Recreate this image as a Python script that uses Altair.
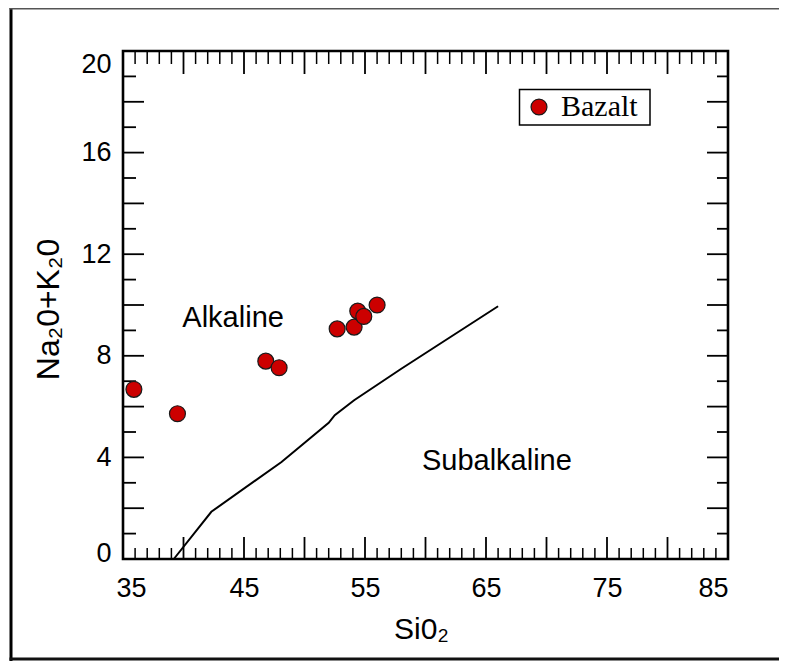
import altair as alt
import pandas as pd

# ---- data ----
sio2 = [35.9, 39.5, 46.8, 47.9, 52.7, 54.1, 54.4, 54.9, 56.0]
alkali = [6.68, 5.72, 7.79, 7.53, 9.06, 9.13, 9.76, 9.55, 10.0]
rock = ["Bazalt"] * 9

line_sio2 = [39.2, 42.3, 48.1, 52.0, 52.5, 54.1, 58.0, 66.0]
line_alk = [0.0, 1.86, 3.82, 5.36, 5.66, 6.25, 7.49, 9.95]

region_names = ["Alkaline", "Subalkaline"]
region_x = [44.1, 65.9]
region_y = [9.5, 3.85]

x_label_ticks = [35, 45, 55, 65, 75, 85]
y_label_ticks = [0, 4, 8, 12, 16, 20]
x_major = [35, 40, 45, 50, 55, 60, 65, 70, 75, 80, 85]
x_minor = [v for v in range(35, 86) if v % 5 != 0]
y_major = [0, 2, 4, 6, 8, 10, 12, 14, 16, 18, 20]
y_minor = [v for v in range(0, 21) if v % 2 != 0]

W, H = 605, 508
FONT = "Liberation Sans"

pts = pd.DataFrame({"sio2": sio2, "alk": alkali, "rock": rock})
bnd = pd.DataFrame({"sio2": line_sio2, "alk": line_alk})
reg = pd.DataFrame({"name": region_names, "sio2": region_x, "alk": region_y})
xmaj = pd.DataFrame({"v": x_major})
xmin = pd.DataFrame({"v": x_minor})
ymaj = pd.DataFrame({"v": y_major})
ymin = pd.DataFrame({"v": y_minor})
dummy = pd.DataFrame({"a": [0]})
dummy_top = pd.DataFrame({"t": [1]})
dummy_bot = pd.DataFrame({"b": [2]})

xscale = alt.Scale(domain=[35, 85], nice=False, zero=False)
yscale = alt.Scale(domain=[0, 20], nice=False, zero=False)

xaxis = alt.Axis(
    values=x_label_ticks, grid=False, ticks=False, domain=False,
    labelFont=FONT, labelFontSize=27, labelColor="black", labelPadding=16,
    labelFlush=True,
    labelOffset={"condition": {"test": "datum.value === 35", "value": -7}, "value": 0},
    title="Si0\u2082", titleFont=FONT, titleFontSize=30, titleFontWeight="normal",
    titleColor="black", titleX=298, titleY=79, titleBaseline="alphabetic",
)
yaxis = alt.Axis(
    values=y_label_ticks, grid=False, ticks=False, domain=False,
    labelFont=FONT, labelFontSize=27, labelColor="black", labelPadding=12,
    labelFlush=True,
    labelOffset={"condition": {"test": "datum.value === 0", "value": 8}, "value": 0},
    title="Na\u20820+K\u20820", titleFont=FONT, titleFontSize=32, titleFontWeight="normal",
    titleColor="black", titleX=-65, titleY=H / 2 + 4, titleAngle=-90,
    titleAlign="center", titleBaseline="alphabetic",
)

def X(field):
    return alt.X(field, type="quantitative", scale=xscale, axis=xaxis, title="Si0\u2082")

def Y(field):
    return alt.Y(field, type="quantitative", scale=yscale, axis=yaxis, title="Na\u20820+K\u20820")

# inward ticks
tick_color = "black"
bottom_major = alt.Chart(xmaj).mark_rule(color=tick_color, strokeWidth=1.8).encode(
    x=X("v"), y=alt.value(H), y2=alt.value(H - 22))
bottom_minor = alt.Chart(xmin).mark_rule(color=tick_color, strokeWidth=1.5).encode(
    x=X("v"), y=alt.value(H), y2=alt.value(H - 11))
top_major = alt.Chart(xmaj).mark_rule(color=tick_color, strokeWidth=1.8).encode(
    x=X("v"), y=alt.value(0), y2=alt.value(23))
top_minor = alt.Chart(xmin).mark_rule(color=tick_color, strokeWidth=1.5).encode(
    x=X("v"), y=alt.value(0), y2=alt.value(13))
left_major = alt.Chart(ymaj).mark_rule(color=tick_color, strokeWidth=1.8).encode(
    y=Y("v"), x=alt.value(0), x2=alt.value(21))
left_minor = alt.Chart(ymin).mark_rule(color=tick_color, strokeWidth=1.8).encode(
    y=Y("v"), x=alt.value(0), x2=alt.value(13))
right_major = alt.Chart(ymaj).mark_rule(color=tick_color, strokeWidth=1.8).encode(
    y=Y("v"), x=alt.value(W), x2=alt.value(W - 21))
right_minor = alt.Chart(ymin).mark_rule(color=tick_color, strokeWidth=1.8).encode(
    y=Y("v"), x=alt.value(W), x2=alt.value(W - 11))

boundary = alt.Chart(bnd).mark_line(color="black", strokeWidth=2).encode(
    x=X("sio2"), y=Y("alk"), order=alt.Order("sio2:Q"))

labels = alt.Chart(reg).mark_text(
    font=FONT, fontSize=29, color="black", align="center", baseline="middle"
).encode(x=X("sio2"), y=Y("alk"), text="name:N")

# legend frame box
legend_box = alt.Chart(dummy).mark_rect(
    fill="white", stroke="black", strokeWidth=1.5
).encode(x=alt.value(396.5), x2=alt.value(527), y=alt.value(38.5), y2=alt.value(74))

points = alt.Chart(pts).mark_circle(
    size=254, opacity=1, stroke="#1a1a1a", strokeWidth=1.2
).encode(
    x=X("sio2"), y=Y("alk"),
    color=alt.Color(
        "rock:N",
        scale=alt.Scale(domain=["Bazalt"], range=["#cc0000"]),
        legend=alt.Legend(
            title=None, orient="none", legendX=396, legendY=38,
            padding=3,
            symbolType="circle", symbolSize=254, symbolOffset=2,
            symbolStrokeColor="#1a1a1a", symbolStrokeWidth=1.2,
            symbolFillColor="#cc0000",
            labelFont="Liberation Serif", labelFontSize=30, labelColor="black",
            labelOffset=7,
        ),
    ),
)

# outer figure frame: left, top and bottom edges (ending inside the page)
frame_left = alt.Chart(dummy).mark_rect(color="black").encode(
    x=alt.value(-113.5), x2=alt.value(-110.5), y=alt.value(-43), y2=alt.value(610))
frame_top = alt.Chart(dummy_top).mark_rect(color="#555555").encode(
    x=alt.value(-113.5), x2=alt.value(656), y=alt.value(-43), y2=alt.value(-41.5))
frame_bottom = alt.Chart(dummy_bot).mark_rect(color="#111111").encode(
    x=alt.value(-113.5), x2=alt.value(656), y=alt.value(606.5), y2=alt.value(609.5))

chart = alt.layer(
    frame_left, frame_top, frame_bottom,
    boundary, labels, legend_box,
    bottom_major, bottom_minor, top_major, top_minor,
    left_major, left_minor, right_major, right_minor,
    points,
).properties(
    width=W, height=H,
    autosize=alt.AutoSizeParams(type="none"),
    padding={"left": 115, "top": 43, "right": 52, "bottom": 102},
    background="white",
).configure_view(stroke="black", strokeWidth=2.6)

chart.save("out.html", embed_options={"renderer": "svg", "actions": False})
